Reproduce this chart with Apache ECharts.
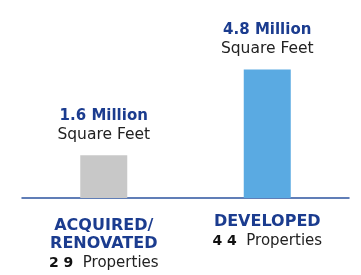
<!DOCTYPE html>
<html>
<head>
    <meta charset="utf-8" />
    <title></title>
    <script src="https://cdn.jsdelivr.net/npm/echarts@6/dist/echarts.min.js"></script>
</head>
<body style="margin:0">
<div id="main" style="width: 361px; height: 275px"></div>
    <script type="text/javascript">
        var categories = ['ACQUIRED/\nRENOVATED', 'DEVELOPED'];
        var squareFeet = [1.6, 4.8];       // million sq ft
        var properties = ['2 9', '4 4'];
        var barColors = ['#C8C8C8', '#5AAAE2'];

        var navy = '#1B3C8F';
        var myChart = echarts.init(document.getElementById('main'));

        myChart.setOption({
            animation: false,
            grid: { left: 22, right: 12, top: 0, bottom: 77 },
            xAxis: {
                type: 'category',
                data: categories,
                axisTick: { show: false },
                axisLine: { lineStyle: { color: '#2D54A0', width: 1.5 } },
                axisLabel: {
                    margin: 15,
                    verticalAlign: 'top',
                    formatter: function (val, idx) {
                        var lines = val.split('\n').map(function (s) { return '{h|' + s + '}'; });
                        var head = lines.length > 1 ? '{sp| }\n' : '';
                        return head + lines.join('\n') + '\n{n|' + properties[idx] + '}{p|  Properties}';
                    },
                    rich: {
                        sp: { fontSize: 1, lineHeight: 4 },
                        h: { fontFamily: 'DejaVu Sans', fontWeight: 'bold', fontSize: 16, color: navy, lineHeight: 18 },
                        n: { fontFamily: 'DejaVu Sans', fontWeight: 'bold', fontSize: 14, color: '#111', lineHeight: 21 },
                        p: { fontFamily: 'DejaVu Sans', fontSize: 15, color: '#222', lineHeight: 21 }
                    }
                }
            },
            yAxis: {
                type: 'value',
                min: 0,
                max: 7.4,
                show: false,
                splitLine: { show: false }
            },
            series: [
                {
                    type: 'bar',
                    barWidth: 47,
                    data: squareFeet.map(function (v, i) {
                        return { value: v, itemStyle: { color: barColors[i] } };
                    }),
                    label: {
                        show: true,
                        position: 'top',
                        distance: 11,
                        formatter: function (p) {
                            return '{m|' + p.value + ' Million}\n{s|Square Feet}';
                        },
                        rich: {
                            m: { fontFamily: 'DejaVu Sans', fontWeight: 'bold', fontSize: 15, color: navy, lineHeight: 19 },
                            s: { fontFamily: 'DejaVu Sans', fontSize: 15.5, color: '#222', lineHeight: 19 }
                        }
                    }
                }
            ]
        });
    </script>
</body>
</html>
